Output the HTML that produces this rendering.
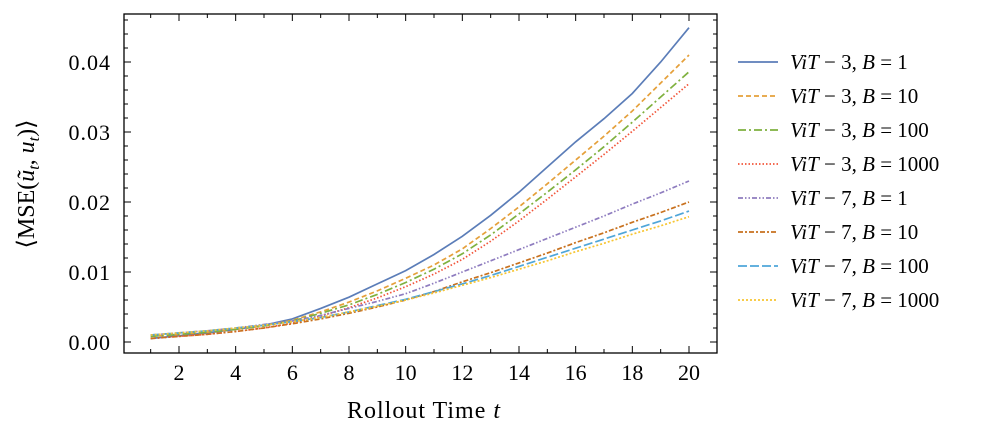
<!DOCTYPE html>
<html><head><meta charset="utf-8"><style>
body{margin:0;background:#fff;}
svg{display:block;font-family:"Liberation Serif","DejaVu Serif",serif;}
</style></head><body>
<svg id="chart" width="997" height="441" viewBox="0 0 997 441">
<g id="plot"></g>
<text x="424" y="418" font-size="24" letter-spacing="1" text-anchor="middle">Rollout Time <tspan font-style="italic">t</tspan></text>
<text transform="translate(34,184) rotate(-90)" font-size="24" text-anchor="middle">⟨MSE(<tspan font-style="italic">ũ</tspan><tspan font-size="16" font-style="italic" dy="5">t</tspan><tspan dy="-5">, </tspan><tspan font-style="italic">u</tspan><tspan font-size="16" font-style="italic" dy="5">t</tspan><tspan dy="-5">)⟩</tspan></text>
<g id="legend"></g>
</svg>
<script>
const steps=[1,2,3,4,5,6,7,8,9,10,11,12,13,14,15,16,17,18,19,20];
const v3b1=[0.0005,0.0009,0.0013,0.0018,0.0024,0.0033,0.0048,0.0064,0.0083,0.0102,0.0125,0.0151,0.0181,0.0214,0.025,0.0286,0.0319,0.0355,0.040,0.0449];
const v3b10=[0.0008,0.0011,0.0014,0.0018,0.0023,0.0031,0.0043,0.0057,0.0073,0.0091,0.011,0.0133,0.0162,0.0193,0.0226,0.026,0.0294,0.033,0.037,0.041];
const v3b100=[0.0008,0.0011,0.0014,0.0018,0.0023,0.003,0.0041,0.0053,0.0068,0.0085,0.0104,0.0126,0.0153,0.0183,0.0214,0.0246,0.0279,0.0314,0.035,0.0386];
const v3b1000=[0.0005,0.0008,0.0011,0.0015,0.002,0.0027,0.0037,0.0049,0.0063,0.0079,0.0097,0.0118,0.0144,0.0173,0.0204,0.0236,0.0268,0.0301,0.0335,0.0369];
const v7b1=[0.001,0.0013,0.0016,0.002,0.0025,0.003,0.0038,0.0048,0.0058,0.0069,0.0084,0.0100,0.0116,0.0132,0.0148,0.0164,0.018,0.0197,0.0213,0.023];
const v7b10=[0.0005,0.0008,0.0011,0.0015,0.002,0.0026,0.0033,0.0041,0.005,0.006,0.0072,0.0086,0.0099,0.0113,0.0127,0.0142,0.0156,0.0171,0.0185,0.020];
const v7b100=[0.001,0.0013,0.0016,0.002,0.0024,0.0029,0.0035,0.0043,0.0052,0.0061,0.0072,0.0083,0.0095,0.0108,0.0121,0.0134,0.0147,0.016,0.0173,0.0187];
const v7b1000=[0.001,0.0013,0.0016,0.002,0.0024,0.0029,0.0035,0.0043,0.0051,0.006,0.007,0.0081,0.0092,0.0104,0.0116,0.0129,0.0141,0.0154,0.0166,0.0179];
const xTicks=[2,4,6,8,10,12,14,16,18,20];
const yTicks=[0,0.01,0.02,0.03,0.04];
const yTickLabels=["0.00","0.01","0.02","0.03","0.04"];
const seriesNames=["3, B = 1","3, B = 10","3, B = 100","3, B = 1000","7, B = 1","7, B = 10","7, B = 100","7, B = 1000"];

const L=124,R=717,T=14,B=353;
const X=t=>179+(t-2)*(689-179)/18;
const Y=v=>342-v*7000;
const NS="http://www.w3.org/2000/svg";
const plot=document.getElementById('plot');
function mk(tag,attrs,parent){const e=document.createElementNS(NS,tag);for(const k in attrs)e.setAttribute(k,attrs[k]);parent.appendChild(e);return e;}

const frame=mk('rect',{x:L,y:T,width:R-L,height:B-T,fill:'none',stroke:'#000','stroke-width':1.3},plot);



for(let t=1;t<=20;t++){
  const major=t%2===0, len=major?7:4, x=X(t);
  mk('line',{x1:x,y1:B,x2:x,y2:B-len,stroke:'#000','stroke-width':1},plot);
  mk('line',{x1:x,y1:T,x2:x,y2:T+len,stroke:'#000','stroke-width':1},plot);
}
xTicks.forEach(t=>{
  const tx=mk('text',{x:X(t),y:B+27,'font-size':22,'text-anchor':'middle'},plot);
  tx.textContent=t;
  
  
});
for(let i=0;i<=23;i++){
  const v=i*0.002, y=Y(v); if(y<T) break;
  const major=i%5===0, len=major?7:4;
  mk('line',{x1:L,y1:y,x2:L+len,y2:y,stroke:'#000','stroke-width':1},plot);
  mk('line',{x1:R,y1:y,x2:R-len,y2:y,stroke:'#000','stroke-width':1},plot);
}
yTicks.forEach((v,i)=>{
  const tx=mk('text',{x:L-13,y:Y(v)+8,'font-size':22,'text-anchor':'end','letter-spacing':1},plot);
  tx.textContent=yTickLabels[i];
  
  
});

const series=[v3b1,v3b10,v3b100,v3b1000,v7b1,v7b10,v7b100,v7b1000];
const colors=["#5B7DB8","#E5A03A","#7FB13F","#F2553A","#8E7CBF","#C8711E","#4FA6D9","#F7C531"];
const dashes=["","5,3","8,3,2,3","1.5,2","5,2,1.5,2,1.5,2","5,2,2,2","9,3","2,2"];
series.forEach((vals,i)=>{
  const d=vals.map((v,j)=>(j?'L':'M')+X(steps[j]).toFixed(1)+','+Y(v).toFixed(1)).join(' ');
  const p=mk('path',{d:d,fill:'none',stroke:colors[i],'stroke-width':1.7,'stroke-dasharray':dashes[i]},plot);
  
  
});

const lg=document.getElementById('legend');
seriesNames.forEach((n,i)=>{
  const y=62+i*34;
  const ln=mk('line',{x1:738,y1:y,x2:778,y2:y,stroke:colors[i],'stroke-width':1.7,'stroke-dasharray':dashes[i]},lg);
  
  
  const parts=n.split(', ');
  const tx=mk('text',{x:790,y:y+7,'font-size':21},lg);
  tx.innerHTML='<tspan font-style="italic">ViT</tspan> − '+parts[0]+', <tspan font-style="italic">B</tspan> = '+parts[1].replace('B = ','');
  
  
});
</script>
</body></html>
